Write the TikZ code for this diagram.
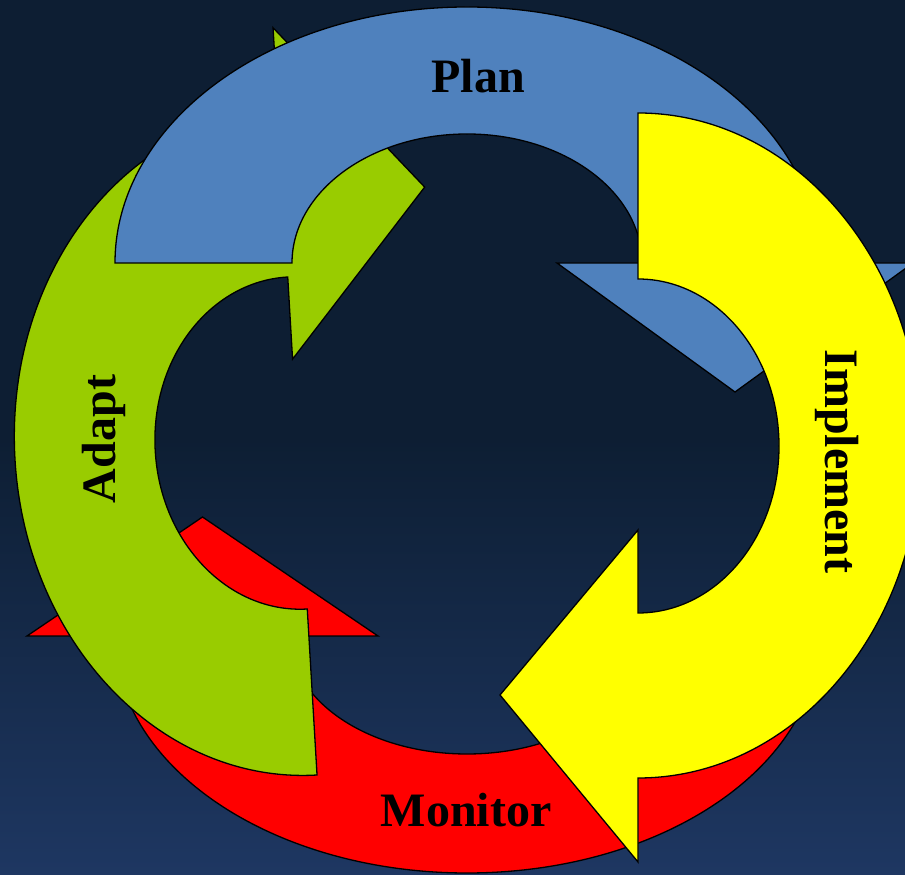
\documentclass[tikz,border=0pt]{standalone}
\usepackage{fontspec}
\setmainfont{Liberation Serif}
\definecolor{bgtop}{HTML}{0D1E33}
\definecolor{bgbot}{HTML}{1E3762}
\definecolor{planblue}{HTML}{4F81BD}
\definecolor{implyellow}{HTML}{FFFF00}
\definecolor{monred}{HTML}{FF0000}
\definecolor{adaptgreen}{HTML}{99CC00}
\pgfdeclareverticalshading{backdrop}{100bp}{color(0bp)=(bgbot); color(25bp)=(bgbot); color(50bp)=(bgtop); color(100bp)=(bgtop)}
\begin{document}
\begin{tikzpicture}[x=1bp,y=1bp,
  cyclearrow/.style={draw=black, line width=1.3bp, line join=miter},
  steplabel/.style={font=\fontsize{48bp}{56bp}\selectfont\bfseries, inner sep=0pt, text=black}]
\useasboundingbox (0,0) rectangle (905,875);
\clip (0,0) rectangle (905,875);
\shade[shading=backdrop] (0,0) rectangle (905,875);

% Monitor: lower half ring, head pointing up on the left
\path[cyclearrow, fill=monred]
  (819,239) arc[start angle=0, end angle=-180, x radius=352, y radius=237]
  -- (27,239) -- (202.5,358) -- (378,239) -- (290,239)
  arc[start angle=180, end angle=360, x radius=177, y radius=118] -- cycle;

% Adapt: left half ring, slightly tilted, head pointing right at the top
\begin{scope}[shift={(297.5,432)}, rotate=3.37]
\path[cyclearrow, fill=adaptgreen]
  (0,-332.6) arc[start angle=-90, end angle=-270, x radius=283, y radius=332.6]
  -- (0,416) -- (142,248) -- (0,84) -- (0,166.3)
  arc[start angle=90, end angle=270, x radius=142.5, y radius=166.3] -- cycle;
\end{scope}

% Plan: upper half ring, head pointing down on the right
\path[cyclearrow, fill=planblue]
  (115,612) arc[start angle=180, end angle=0, x radius=352, y radius=256]
  -- (913,612) -- (735,483) -- (557,612) -- (642,612)
  arc[start angle=0, end angle=180, x radius=175, y radius=129] -- cycle;

% Implement: right half ring, head pointing left at the bottom
\path[cyclearrow, fill=implyellow]
  (638,762) arc[start angle=90, end angle=-90, x radius=283, y radius=332.5]
  -- (638,13) -- (500,180) -- (638,345) -- (638,262)
  arc[start angle=-90, end angle=90, x radius=141, y radius=167] -- cycle;

% Labels
\node[steplabel, anchor=base] (plan) at (478,782) {Plan};
\node[steplabel, anchor=base, rotate=-90] (implement) at (825,413.5) {Implement};
\node[steplabel, anchor=base] (monitor) at (466,48) {Monitor};
\node[steplabel, anchor=base, rotate=90] (adapt) at (115,436) {Adapt};
\end{tikzpicture}
\end{document}
